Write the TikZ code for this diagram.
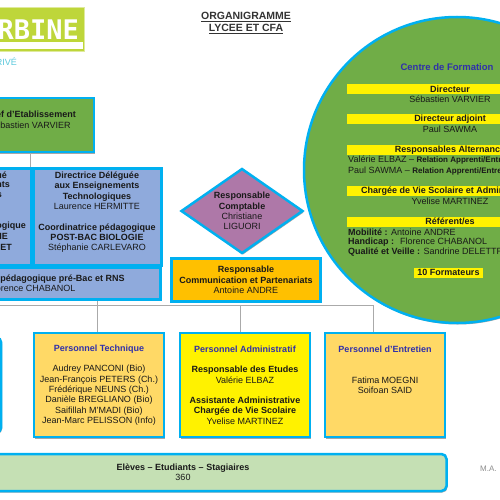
\documentclass[tikz,border=0pt]{standalone}
\usepackage{fontspec}
\setmainfont{Liberation Sans}
\newfontfamily\logofont{DejaVu Sans Mono}
\usetikzlibrary{positioning,shapes.geometric,shadows}
\definecolor{framecyan}{RGB}{0,176,240}
\definecolor{chefgreen}{RGB}{112,173,71}
\definecolor{logogreen}{RGB}{190,214,58}
\definecolor{logotagblue}{RGB}{90,200,220}
\definecolor{deskblue}{RGB}{143,170,220}
\definecolor{staffgold}{RGB}{255,217,102}
\definecolor{commorange}{RGB}{255,192,0}
\definecolor{comptamauve}{RGB}{174,120,168}
\definecolor{pupilgreen}{RGB}{197,224,180}
\definecolor{titleblue}{RGB}{48,48,170}
\definecolor{hubgrey}{RGB}{170,170,170}
\tikzset{
    orgbox/.style={draw=framecyan, line width=2.5pt, inner sep=0pt, align=center,
        font=\fontsize{9}{10.3}\selectfont, text=black!90,
        drop shadow={shadow xshift=1pt, shadow yshift=-1.5pt, fill=black!35, opacity=1}},
    bandbox/.style={fill=yellow, minimum width=206pt, minimum height=10pt, inner sep=0pt,
        font=\fontsize{9}{10}\selectfont\bfseries, text=black!90},
    roundtext/.style={inner sep=0pt, font=\fontsize{9}{10}\selectfont, text=black!90},
    hubline/.style={draw=hubgrey, line width=0.8pt}
}
\newcommand{\bossname}[1]{\textbf{#1}}
\newcommand{\bluehead}[1]{\textcolor{titleblue}{\textbf{#1}}}
\begin{document}
\begin{tikzpicture}[x=1pt, y=-1pt]
\useasboundingbox (0,0) rectangle (500,500);
\clip (0,0) rectangle (500,500);
% logo
\node[fill=logogreen, draw=logogreen!50, line width=0.5pt, minimum width=96pt, minimum height=44pt, inner sep=0pt] (logobox) at (36,29) {};
\node[font=\logofont\bfseries\fontsize{27}{27}\selectfont, text=white, anchor=east, inner sep=0pt] (logoword) at (79,29.5) {\scalebox{1}{1.15}{RBINE}};
\node[fill=white, minimum width=92pt, minimum height=7pt, inner sep=0pt] (logobar) at (37,46) {};
\node[font=\fontsize{9}{9}\selectfont, text=logotagblue, anchor=east, inner sep=0pt] (logotag) at (17,62) {RIVÉ};
% title
\node[font=\fontsize{10.5}{12}\selectfont\bfseries, align=center, text=black!80, inner sep=0pt] (titlebox) at (246,23) {\underline{ORGANIGRAMME}\\\underline{LYCEE ET CFA}};
% left column
\node[orgbox, fill=chefgreen, minimum width=128pt, minimum height=54pt] (chefbox) at (30,125) {\bossname{Chef d'Etablissement}\\Sébastien VARVIER\\~};
\node[orgbox, fill=deskblue, line width=3pt, minimum width=131pt, minimum height=97pt] (leftdesk) at (-34,216.5) {};
\node[orgbox, fill=deskblue, line width=3pt, minimum width=128pt, minimum height=97pt] (hermbox) at (97,216.5) {\bossname{Directrice Déléguée}\\\bossname{aux Enseignements}\\\bossname{Technologiques}\\Laurence HERMITTE\\~\\\bossname{Coordinatrice pédagogique}\\\bossname{POST-BAC BIOLOGIE}\\Stéphanie CARLEVARO\\~};
\foreach \t/\x/\y [count=\n] in {ué/7/175,nts/10/185,s/2/195,ogique/26/226,IE/8/236,LET/12/247}{
    \node[roundtext, anchor=east, font=\fontsize{9}{10}\selectfont\bfseries] (frag\n) at (\x,\y) {\t};
}
\node[orgbox, fill=deskblue, line width=3pt, minimum width=257pt, minimum height=32pt] (pedabox) at (32,283.5) {\bossname{Coordinatrice pédagogique pré-Bac et RNS}\\Florence CHABANOL};
% middle column
\node[orgbox, diamond, fill=comptamauve, aspect=1.43, minimum width=122pt, minimum height=85pt] (comptabox) at (242,211) {\bossname{Responsable}\\\bossname{Comptable}\\Christiane\\LIGUORI};
\node[orgbox, fill=commorange, minimum width=149pt, minimum height=43pt] (commbox) at (246,280) {\bossname{Responsable}\\\bossname{Communication et Partenariats}\\Antoine ANDRE};
% big circle
\node[orgbox, circle, fill=chefgreen, minimum size=306pt] (cfacircle) at (457,170) {};
\node[roundtext, text=titleblue, font=\fontsize{9.5}{10}\selectfont\bfseries] (cfatitle) at (447,67) {Centre de Formation};
\node[bandbox] (banddir) at (450,89) {Directeur};
\node[roundtext] (namedir) at (450,99) {Sébastien VARVIER};
\node[bandbox] (bandadj) at (450,119) {Directeur adjoint};
\node[roundtext] (nameadj) at (450,129) {Paul SAWMA};
\node[bandbox] (bandalt) at (450,150) {Responsables Alternance};
\node[roundtext, anchor=west] (namealta) at (348,160) {Valérie ELBAZ – \textbf{\fontsize{8}{10}\selectfont Relation Apprenti/Entreprise}};
\node[roundtext, anchor=west] (namealtb) at (348,171) {Paul SAWMA – \textbf{\fontsize{8}{10}\selectfont Relation Apprenti/Entreprise}};
\node[bandbox] (bandvie) at (450,191) {Chargée de Vie Scolaire et Administrative};
\node[roundtext] (namevie) at (450,201) {Yvelise MARTINEZ};
\node[bandbox] (bandref) at (450,221.5) {Référent/es};
\node[roundtext, anchor=west] (namerefa) at (348,232) {\textbf{Mobilité :} Antoine ANDRE};
\node[roundtext, anchor=west] (namerefb) at (348,242) {\textbf{Handicap :} ~Florence CHABANOL};
\node[roundtext, anchor=west] (namerefc) at (348,252) {\textbf{Qualité et Veille :} Sandrine DELETTRE};
\node[bandbox, minimum width=69pt] (bandform) at (448.5,272.5) {10 Formateurs};
% staff row
\node[orgbox, rounded corners=4pt, fill=white, minimum width=60pt, minimum height=94pt] (leftstaff) at (-29,385) {};
\node[orgbox, fill=staffgold, minimum width=130pt, minimum height=104pt] (techbox) at (99,385) {\bluehead{Personnel Technique}\\~\\Audrey PANCONI (Bio)\\Jean-François PETERS (Ch.)\\Frédérique NEUNS (Ch.)\\Danièle BREGLIANO (Bio)\\Saifillah M'MADI (Bio)\\Jean-Marc PELISSON (Info)};
\node[orgbox, fill=yellow, minimum width=130pt, minimum height=104pt] (adminbox) at (245,385) {\bluehead{Personnel Administratif}\\~\\\bossname{Responsable des Etudes}\\Valérie ELBAZ\\~\\\bossname{Assistante Administrative}\\\bossname{Chargée de Vie Scolaire}\\Yvelise MARTINEZ};
\node[orgbox, fill=staffgold, minimum width=120pt, minimum height=104pt] (entrbox) at (385,385) {\bluehead{Personnel d'Entretien}\\~\\~\\Fatima MOEGNI\\Soifoan SAID\\~\\~\\~};
\node[orgbox, rounded corners=5pt, fill=pupilgreen, minimum width=527pt, minimum height=37pt] (pupilbox) at (183,472.5) {\bossname{Elèves – Etudiants – Stagiaires}\\360};
\node[inner sep=0pt, anchor=west, text=black!45, font=\fontsize{8}{8}\selectfont] (signbox) at (480,469) {M.A.};
% connectors
\coordinate (hubleft) at (0,305);
\coordinate (hubtech) at (97,305);
\coordinate (hubadmin) at (240,305);
\coordinate (hubentr) at (373,305);
\draw[hubline] (chefbox.south) -- (chefbox.south |- hermbox.north);
\draw[hubline] (hubleft) -- (hubentr);
\draw[hubline] (hubtech |- pedabox.south) -- (hubtech |- techbox.north);
\draw[hubline] (hubadmin) -- (hubadmin |- adminbox.north);
\draw[hubline] (hubentr) -- (hubentr |- entrbox.north);
\end{tikzpicture}
\end{document}
